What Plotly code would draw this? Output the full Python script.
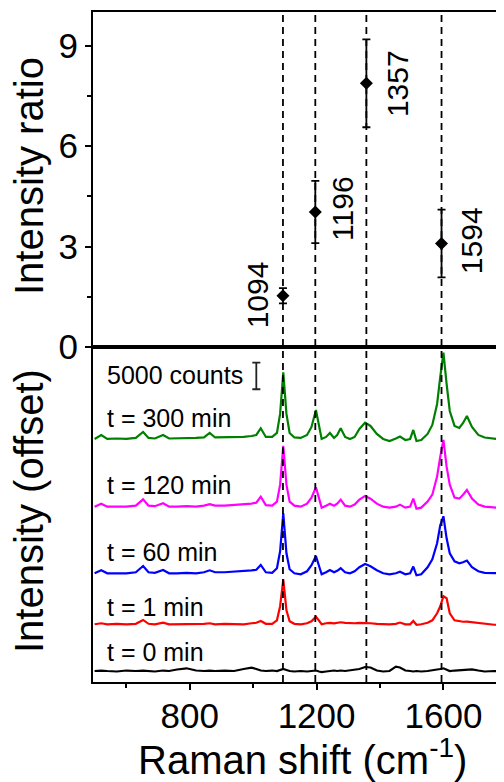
import plotly.graph_objects as go
from plotly.subplots import make_subplots

# ---------------- data ----------------
# top panel: intensity ratio of selected Raman bands
peak_shift = [1094, 1196, 1357, 1594]
ratio = [1.53, 4.03, 7.87, 3.09]
ratio_err = [0.23, 0.93, 1.31, 1.01]

# bottom panel: SERS spectra (counts above each baseline)
raman_shift = [500, 521, 540, 570, 600, 630, 653, 670, 690, 716,
               735, 760, 790, 820, 845, 863, 880, 910, 940, 970,
               995, 1010, 1024, 1040, 1060, 1075, 1085, 1095, 1105, 1115,
               1130, 1150, 1170, 1184, 1198, 1208, 1216, 1230, 1242, 1255,
               1265, 1276, 1290, 1305, 1320, 1335, 1353, 1370, 1390, 1410,
               1430, 1450, 1463, 1480, 1495, 1505, 1515, 1530, 1550, 1565,
               1580, 1590, 1600, 1610, 1620, 1635, 1650, 1662, 1674, 1690,
               1710, 1730, 1760, 1790]

spec_t0 = [0, 90, 0, -90, 90, 0, 90, 0, -90, 90,
           0, 280, 510, 90, 0, 90, 0, 90, 0, 380,
           620, 380, 90, 0, 90, 0, 190, 380, 190, 0,
           -90, 0, -90, 0, 90, -90, -190, -90, 0, 90,
           0, 90, 0, 90, 190, 380, 750, 660, 90, -90,
           0, 810, 660, 90, 0, -90, 0, -90, 0, 90,
           190, 380, 510, 190, 0, 90, 190, 190, 280, 320,
           90, -90, 0, -90]

spec_t1 = [0, 190, 0, 90, 0, 90, 810, 90, 0, 320,
           0, 0, 90, 0, 90, 190, 0, 90, 90, 0,
           190, 280, 620, 90, 90, 750, 3380, 8440, 2630, 560,
           90, 0, 190, 560, 1430, 560, 0, 190, 280, 190,
           280, 380, 280, 190, 190, 280, 280, 190, 90, 0,
           0, 90, 320, 0, 0, 620, -90, 0, 280, 750,
           2060, 3380, 5250, 4880, 2060, 750, 560, 470, 490, 380,
           190, 0, -90, -90]

spec_t60 = [0, 560, 0, 0, 0, 190, 1370, 190, 90, 620,
            0, 0, 90, 0, 190, 560, 190, 190, 280, 380,
            560, 660, 1560, 190, 90, 940, 4130, 11250, 3750, 750,
            0, -190, 380, 1500, 3240, 1310, -190, 190, 620, 190,
            470, 940, 190, 0, 380, 1130, 1740, 1310, 560, 0,
            -190, 0, 280, -190, 0, 1260, -380, -190, 1130, 2630,
            5630, 9000, 10690, 6560, 3750, 2250, 1880, 2060, 2380, 1130,
            380, 90, 0, 0]

spec_t120 = [0, 560, 0, 0, 0, 190, 1370, 190, 90, 640,
             0, 0, 90, 0, 190, 470, 190, 190, 280, 380,
             560, 750, 1880, 280, 190, 940, 4130, 11380, 4130, 940,
             190, 0, 560, 1690, 3640, 1500, -190, 190, 560, 190,
             560, 1310, 190, 0, 380, 1310, 2010, 1500, 560, 0,
             -190, 0, 380, -190, 0, 1500, -380, -190, 940, 2250,
             5630, 9380, 12510, 7500, 4130, 1690, 1500, 2250, 3130, 1500,
             380, 0, -190, -280]

spec_t300 = [0, 750, 0, 90, 0, 190, 1310, 190, 90, 750,
             90, 90, 190, 190, 280, 1130, 280, 280, 380, 380,
             560, 750, 2010, 380, 380, 1130, 4690, 12510, 4690, 1130,
             280, 190, 750, 2250, 5440, 2250, 0, 380, 1130, 190,
             750, 2010, 380, 0, 380, 1880, 3060, 2440, 940, 0,
             -380, 90, 470, -190, 0, 1690, -380, -190, 940, 2630,
             6560, 11630, 16180, 10310, 5250, 2440, 2060, 3000, 4310, 2250,
             750, 280, 0, -190]

spectra = [spec_t0, spec_t1, spec_t60, spec_t120, spec_t300]
time_labels = ["t = 0 min", "t = 1 min", "t = 60 min", "t = 120 min", "t = 300 min"]
offsets = [2060, 10820, 20380, 32870, 45560]
scale_bar_counts = 5000

# ---------------- styling ----------------
FONT = "Liberation Sans, Arial, Helvetica, sans-serif"
colors = ["#000000", "#ff0000", "#0000ff", "#ff00ff", "#008000"]
PAGE = 8  # default body margin of the html page
W, H = 504 - PAGE, 782 - PAGE
ML, MR, MT, MB = 93 - PAGE, 0, 12 - PAGE, 100
PW, PH = W - ML - MR, H - MT - MB


def px_x(sx):
    # screen x -> paper x
    return (sx - PAGE - ML) / PW


def px_y(sy):
    # screen y -> paper y
    return (H - MB - (sy - PAGE)) / PH


fig = make_subplots(rows=2, cols=1, shared_xaxes=True, vertical_spacing=0)

# spectra
for spec, off, col in zip(spectra, offsets, colors):
    fig.add_trace(go.Scatter(
        x=raman_shift, y=[v + off for v in spec], mode="lines",
        line=dict(color=col, width=2.2), showlegend=False, hoverinfo="skip"),
        row=2, col=1)

# scale bar (5000 counts)
fig.add_trace(go.Scatter(
    x=[1010], y=[57380], mode="markers",
    marker=dict(size=2, color="rgba(0,0,0,0)"),
    error_y=dict(type="constant", value=scale_bar_counts / 2, color="#222",
                 thickness=1.8, width=4),
    showlegend=False, hoverinfo="skip"), row=2, col=1)

# intensity ratios
fig.add_trace(go.Scatter(
    x=peak_shift, y=ratio, mode="markers",
    marker=dict(symbol="diamond", size=10, color="black"),
    error_y=dict(type="data", array=ratio_err, color="black",
                 thickness=1.8, width=4),
    showlegend=False, hoverinfo="skip"), row=1, col=1)

# dashed guide lines through both panels
for p in peak_shift:
    fig.add_shape(type="line", xref="x2", yref="paper", x0=p, x1=p, y0=0, y1=1,
                  line=dict(color="black", width=1.8, dash="7px,5px"), layer="above")

# peak labels (rotated)
label_dx = [-80, 87, 99, 94]
label_dy = [0.03, 0.12, 0.0, 0.08]
for p, r, dx, dy in zip(peak_shift, ratio, label_dx, label_dy):
    fig.add_annotation(x=p + dx, y=r + dy, xref="x", yref="y", text=str(p),
                       textangle=-90, showarrow=False, xanchor="center", yanchor="middle",
                       font=dict(family=FONT, size=30, color="black"))

# spectrum labels
label_py = [651.7, 606.7, 551.7, 485, 418.3]
for t, py in zip(time_labels, label_py):
    fig.add_annotation(x=px_x(105), y=px_y(py), xref="paper", yref="paper", text=t,
                       showarrow=False, xanchor="left", yanchor="middle",
                       font=dict(family=FONT, size=25, color="black"))
fig.add_annotation(x=px_x(105), y=px_y(375), xref="paper", yref="paper",
                   text=f"{scale_bar_counts} counts", showarrow=False,
                   xanchor="left", yanchor="middle",
                   font=dict(family=FONT, size=25, color="black"))

# axis titles
fig.add_annotation(x=px_x(29), y=px_y(176), xref="paper", yref="paper",
                   text="Intensity ratio", textangle=-90, showarrow=False,
                   xanchor="center", yanchor="middle",
                   font=dict(family=FONT, size=40, color="black"))
fig.add_annotation(x=px_x(29), y=px_y(511), xref="paper", yref="paper",
                   text="Intensity (offset)", textangle=-90, showarrow=False,
                   xanchor="center", yanchor="middle",
                   font=dict(family=FONT, size=40, color="black"))
fig.add_annotation(x=px_x(302), y=px_y(757), xref="paper", yref="paper",
                   text="Raman shift (cm<sup>-1</sup>)", showarrow=False,
                   xanchor="center", yanchor="middle",
                   font=dict(family=FONT, size=40, color="black"))

axis_common = dict(showline=True, linecolor="black", linewidth=2, showgrid=False,
                   zeroline=False, tickfont=dict(family=FONT, size=35, color="black"))

fig.update_xaxes(range=[495, 1791], **axis_common)
fig.update_xaxes(row=1, col=1, mirror=True, ticks="", showticklabels=False)
fig.update_xaxes(row=2, col=1, mirror=True, ticks="outside", ticklen=6, tickwidth=2,
                 tickcolor="black", tick0=400, dtick=400, ticklabelstandoff=-4,
                 minor=dict(ticks="outside", ticklen=4, tickwidth=2, tickcolor="black",
                            dtick=200, tick0=0, showgrid=False))
fig.update_yaxes(row=1, col=1, range=[0, 10], ticks="outside", ticklen=6, tickwidth=2,
                 tickcolor="black", tick0=0, dtick=3,
                 minor=dict(ticks="outside", ticklen=4, tickwidth=2, tickcolor="black",
                            dtick=1.5, tick0=0, showgrid=False),
                 **axis_common)
fig.update_yaxes(row=2, col=1, range=[0, 62800], ticks="", showticklabels=False,
                 **axis_common)

fig.update_layout(width=W, height=H, autosize=False,
                  margin=dict(l=ML, r=MR, t=MT, b=MB, pad=0),
                  plot_bgcolor="white", paper_bgcolor="white",
                  font=dict(family=FONT, color="black"), showlegend=False)

fig.write_html("out.html")
